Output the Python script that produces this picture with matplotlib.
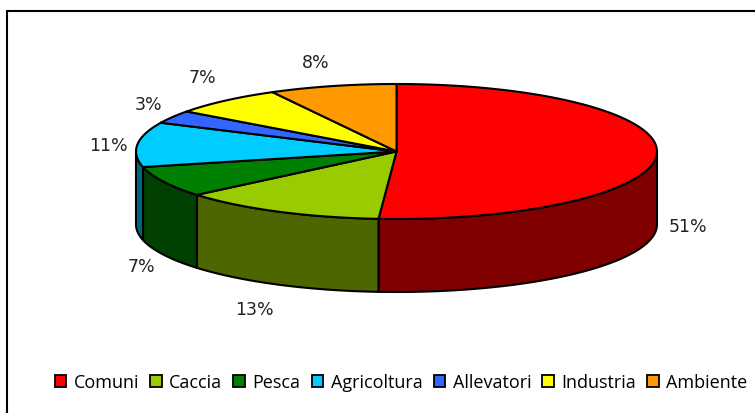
import numpy as np
import matplotlib
matplotlib.use('Agg')
import matplotlib.pyplot as plt
from matplotlib.patches import Polygon, Patch, Rectangle

#quote, in senso orario da ore 12
categorie = ['Comuni', 'Caccia', 'Pesca', 'Agricoltura', 'Allevatori', 'Industria', 'Ambiente']
quote = [51.1, 12.8, 7.4, 10.7, 3.1, 7.0, 7.9]
colori = ['#ff0000', '#99cc00', '#008000', '#00ccff', '#3366ff', '#ffff00', '#ff9900']
colori_lato = ['#800000', '#4d6600', '#004000', '#006680', '#1a3380', '#808000', '#804d00']

#posizione delle etichette in pixel
etich_x = [688, 254, 141, 108, 149, 202, 316]
etich_y = [227, 310, 267, 146, 105, 78, 63]

cx, cy, rx, ry, h = 396.5, 152.5, 260.5, 67.5, 73

def arco(a, b, dy=0):
    t = np.radians(np.linspace(a, b, 200))
    return np.column_stack((cx + rx*np.sin(t), cy + ry*np.cos(t) * -1 + dy))

fig = plt.figure(figsize=(7.55, 4.14), dpi=100)
ax = fig.add_axes([0, 0, 1, 1])
ax.set_xlim(0, 755)
ax.set_ylim(414, 0)
ax.axis('off')

#cornice, aperta a destra e in basso
ax.add_patch(Rectangle((7, 12), 800, 450, fc='white', ec='black', lw=1.5))

fine = np.cumsum(quote) / np.sum(quote) * 360
inizio = np.concatenate(([0], fine[:-1]))

#lati visibili: solo la meta davanti
for a, b, col in zip(inizio, fine, colori_lato):
    a2, b2 = max(a, 90), min(b, 270)
    if a2 >= b2:
        continue
    pts = np.vstack((arco(a2, b2), arco(a2, b2, h)[::-1]))
    ax.add_patch(Polygon(pts, closed=True, fc=col, ec='black', lw=1.5, joinstyle='round'))

#faccia superiore
for a, b, col in zip(inizio, fine, colori):
    pts = np.vstack(([[cx, cy]], arco(a, b)))
    ax.add_patch(Polygon(pts, closed=True, fc=col, ec='black', lw=1.5, joinstyle='round'))

for x, y, q in zip(etich_x, etich_y, quote):
    ax.text(x, y, f'{round(q)}%', ha='center', va='center', fontsize=12.5,
            color='#222222', family='DejaVu Sans')

handles = [Patch(fc=c, ec='black', lw=1.3) for c in colori]
ax.legend(handles, categorie, loc='center', bbox_to_anchor=(401/755, 1 - 383/414),
          ncol=7, frameon=False, handlelength=0.65, handleheight=0.65,
          handletextpad=0.4, columnspacing=0.62, borderpad=0, borderaxespad=0,
          prop={'family': 'Open Sans', 'size': 13})

fig.savefig('out.png', dpi=100)
